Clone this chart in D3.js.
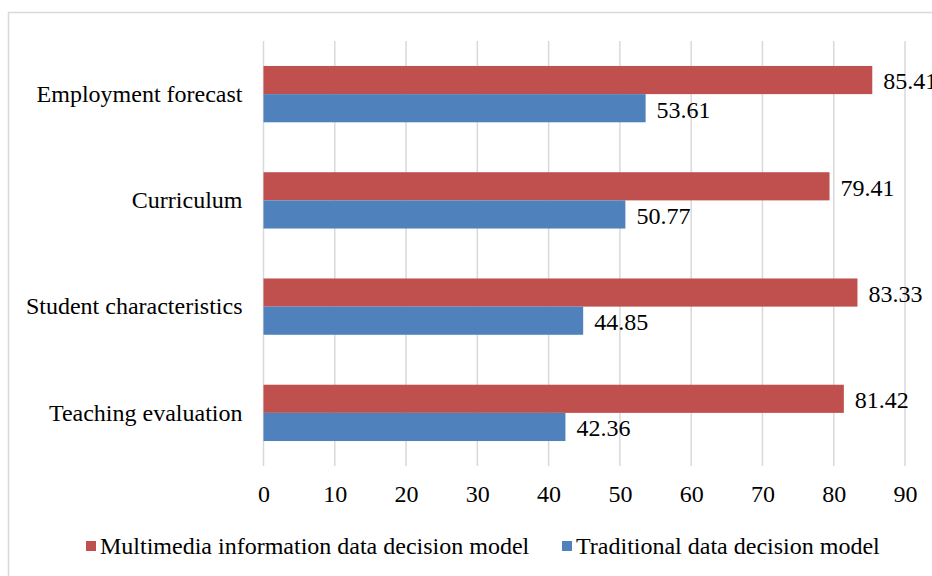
<!DOCTYPE html>
<html>
<head>
<meta charset="utf-8">
<script src="https://cdn.jsdelivr.net/npm/d3@7"></script>
<style>
  html, body { margin: 0; padding: 0; background: #fff; }
  svg { display: block; }
</style>
</head>
<body>
<svg id="chart" width="932" height="576"></svg>
<script>
// Categories, top to bottom
const categories = ["Employment forecast", "Curriculum", "Student characteristics", "Teaching evaluation"];
// Series values
const multimediaValues = [85.41, 79.41, 83.33, 81.42];
const traditionalValues = [53.61, 50.77, 44.85, 42.36];
const seriesNames = ["Multimedia information data decision model", "Traditional data decision model"];
const tickValues = [0, 10, 20, 30, 40, 50, 60, 70, 80, 90];

const FONT = '"Liberation Serif"';
const FS = 24;
const colors = ["#C0504D", "#4F81BD"];
const W = 932, H = 576;
const margin = { left: 263.5, right: 27, top: 41, bottom: 110 };

const svg = d3.select("#chart");

// outer frame
svg.append("rect")
  .attr("x", 8.5).attr("y", 12.5)
  .attr("width", W + 20).attr("height", H + 20)
  .attr("fill", "none").attr("stroke", "#D9D9D9").attr("stroke-width", 1.5);

const x = d3.scaleLinear().domain([0, 90]).range([margin.left, W - margin.right]);
const y = d3.scaleBand().domain(categories).range([margin.top, H - margin.bottom]).paddingInner(0.47).paddingOuter(0.235);
const sub = d3.scaleBand().domain([0, 1]).range([0, y.bandwidth()]);

// vertical gridlines
svg.append("g").selectAll("line").data(tickValues).join("line")
  .attr("x1", d => x(d)).attr("x2", d => x(d))
  .attr("y1", margin.top).attr("y2", H - margin.bottom)
  .attr("stroke", "#D9D9D9").attr("stroke-width", 1.5);

// x axis tick labels
const xAxis = d3.axisBottom(x).tickValues(tickValues).tickSize(0).tickPadding(0).tickFormat(d3.format("d"));
const gx = svg.append("g").attr("transform", `translate(0,${H - margin.bottom + 19})`).call(xAxis)
  .attr("font-family", FONT).attr("font-size", FS);
gx.select(".domain").remove();
gx.selectAll("text").attr("dy", "0.72em").attr("fill", "#000")
  .style("font-family", FONT).style("font-size", FS + "px");

// category labels
const yAxis = d3.axisLeft(y).tickSize(0).tickPadding(21);
const gy = svg.append("g").attr("transform", `translate(${margin.left},0)`).call(yAxis)
  .attr("font-family", FONT).attr("font-size", FS);
gy.select(".domain").remove();
gy.selectAll("text").attr("dy", "0.32em").attr("fill", "#000")
  .style("font-family", FONT).style("font-size", FS + "px");

const series = [multimediaValues, traditionalValues];
series.forEach((vals, si) => {
  const g = svg.append("g");
  g.selectAll("rect").data(vals).join("rect")
    .attr("x", x(0))
    .attr("y", (d, i) => y(categories[i]) + sub(si))
    .attr("width", d => x(d) - x(0))
    .attr("height", sub.bandwidth())
    .attr("fill", colors[si]);
  g.selectAll("text").data(vals).join("text")
    .attr("x", d => x(d) + 11)
    .attr("y", (d, i) => y(categories[i]) + sub(si) + sub.bandwidth() / 2 + 1)
    .attr("dy", "0.35em")
    .style("font-family", FONT).style("font-size", FS + "px")
    .attr("fill", "#000")
    .text(d => d.toFixed(2));
});

// legend
const legendY = 546;
const legendItems = [{ x: 86, name: seriesNames[0], c: colors[0] }, { x: 562, name: seriesNames[1], c: colors[1] }];
legendItems.forEach(it => {
  svg.append("rect").attr("x", it.x).attr("y", legendY - 5).attr("width", 10).attr("height", 10).attr("fill", it.c);
  svg.append("text").attr("x", it.x + 14).attr("y", legendY).attr("dy", "0.35em")
    .style("font-family", FONT).style("font-size", FS + "px")
    .attr("fill", "#000").text(it.name);
});
</script>
</body>
</html>
